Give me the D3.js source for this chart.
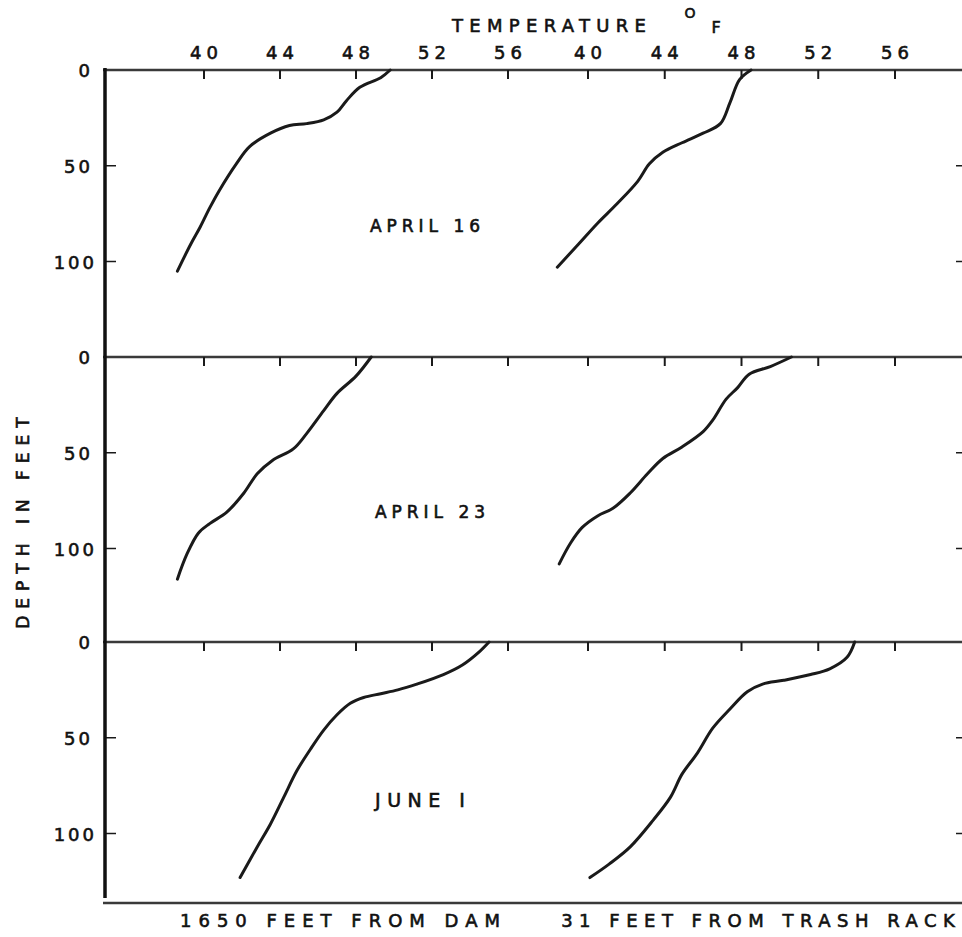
<!DOCTYPE html>
<html>
<head>
<meta charset="utf-8">
<script src="https://cdn.jsdelivr.net/npm/d3@7"></script>
<style>
  html, body { margin: 0; padding: 0; background: #fff; }
  svg { display: block; }
  text { font-family: "DejaVu Sans", sans-serif; fill: #111; stroke: #111; stroke-width: 0.6px; }
</style>
</head>
<body>
<svg id="chart" width="962" height="937"></svg>
<script>
// ---- data (temperature °F vs depth ft) ----
const tempTicks = [40, 44, 48, 52, 56];
const depthTicks = [0, 50, 100];
const panelLabels = ["APRIL 16", "APRIL 23", "JUNE I"];
const stationLabels = ["1650 FEET FROM DAM", "31 FEET FROM TRASH RACK"];

const apr16DamDepth = [0, 4, 9, 16, 22, 26, 28, 29, 33, 40, 49, 63, 72, 82, 91, 105];
const apr16DamTemp  = [49.8, 49.3, 48.2, 47.5, 47.0, 46.3, 45.4, 44.5, 43.5, 42.4, 41.7, 40.8, 40.3, 39.8, 39.3, 38.6];
const apr16RackDepth = [0, 5, 17, 28, 33, 38, 43, 49, 58, 70, 80, 91, 103];
const apr16RackTemp  = [48.5, 47.9, 47.4, 46.9, 46.0, 44.9, 43.9, 43.2, 42.6, 41.5, 40.5, 39.5, 38.4];

const apr23DamDepth = [0, 10, 19, 28, 40, 48, 54, 61, 71, 81, 87, 92, 103, 116];
const apr23DamTemp  = [48.8, 48.0, 47.0, 46.3, 45.4, 44.7, 43.6, 42.8, 42.1, 41.2, 40.3, 39.7, 39.1, 38.6];
const apr23RackDepth = [0, 5, 9, 16, 22, 33, 39, 47, 53, 61, 71, 79, 83, 89, 97, 108];
const apr23RackTemp  = [50.6, 49.5, 48.4, 47.8, 47.2, 46.5, 46.0, 44.9, 43.9, 43.1, 42.2, 41.3, 40.5, 39.7, 39.1, 38.5];

const jun1DamDepth = [0, 5, 12, 17, 22, 25, 27, 29, 32, 38, 46, 56, 67, 81, 95, 107, 123];
const jun1DamTemp  = [55.0, 54.5, 53.6, 52.6, 51.2, 50.2, 49.3, 48.4, 47.7, 47.0, 46.3, 45.6, 44.9, 44.2, 43.5, 42.8, 41.9];
const jun1RackDepth = [0, 8, 14, 17, 20, 22, 26, 35, 45, 58, 69, 81, 93, 107, 116, 123];
const jun1RackTemp  = [53.9, 53.5, 52.6, 51.6, 50.2, 49.1, 48.3, 47.4, 46.5, 45.7, 44.9, 44.3, 43.4, 42.2, 41.1, 40.1];

const panelMaxDepth = [150, 148.5, 135];

// ---- layout ----
const svg = d3.select("#chart");
const axisX = 105, rightX = 962;
const panelTops = [70, 357, 642];
const pxPerFt = 1.915;

const xDam = d3.scaleLinear().domain([40, 56]).range([204, 508]);
const xRack = d3.scaleLinear().domain([40, 56]).range([588, 895]);

const panels = [
  { dam: [apr16DamTemp, apr16DamDepth], rack: [apr16RackTemp, apr16RackDepth] },
  { dam: [apr23DamTemp, apr23DamDepth], rack: [apr23RackTemp, apr23RackDepth] },
  { dam: [jun1DamTemp, jun1DamDepth], rack: [jun1RackTemp, jun1RackDepth] }
];

const ink = "#1a1a1a";

function spacedText(sel, x, y, str, size, ls, anchor) {
  const t = sel.append("text")
    .attr("x", x).attr("y", y)
    .attr("font-size", size)
    .attr("letter-spacing", ls)
    .attr("text-anchor", anchor || "middle")
    .text(str);
  if (!anchor || anchor === "middle") t.attr("dx", ls / 2);
  if (anchor === "end") t.attr("dx", ls);
  return t;
}

panels.forEach((p, i) => {
  const top = panelTops[i];
  const y = d3.scaleLinear().domain([0, panelMaxDepth[i]]).range([top, top + panelMaxDepth[i] * pxPerFt]);
  const g = svg.append("g");

  // top border line of the panel
  g.append("line")
    .attr("x1", axisX - 2).attr("x2", rightX)
    .attr("y1", y(0)).attr("y2", y(0))
    .attr("stroke", "#3a3a3a").attr("stroke-width", 2.6);

  // temperature ticks (pointing down into panel)
  [xDam, xRack].forEach(xs => {
    g.selectAll(null).data(tempTicks).enter().append("line")
      .attr("x1", d => xs(d)).attr("x2", d => xs(d))
      .attr("y1", y(0)).attr("y2", y(0) + 9)
      .attr("stroke", ink).attr("stroke-width", 2);
  });

  // depth ticks on left axis and right edge
  g.selectAll(null).data(depthTicks.filter(d => d > 0)).enter().append("line")
    .attr("x1", axisX).attr("x2", axisX + 11)
    .attr("y1", d => y(d)).attr("y2", d => y(d))
    .attr("stroke", ink).attr("stroke-width", 1.5);
  g.selectAll(null).data(depthTicks.filter(d => d > 0)).enter().append("line")
    .attr("x1", rightX - 6).attr("x2", rightX)
    .attr("y1", d => y(d)).attr("y2", d => y(d))
    .attr("stroke", ink).attr("stroke-width", 1.5);

  // depth labels
  depthTicks.forEach(d => {
    spacedText(g, d === 100 ? 94 : 90, y(d) + 7, String(d), 18, 3, "end");
  });

  // profile curves
  const line = xs => d3.line()
    .x(d => xs(d[0])).y(d => y(d[1]))
    .curve(d3.curveCatmullRom.alpha(0.5));
  [[p.dam, xDam], [p.rack, xRack]].forEach(([arr, xs]) => {
    const pts = arr[0].map((t, k) => [t, arr[1][k]]);
    g.append("path").datum(pts)
      .attr("d", line(xs))
      .attr("fill", "none").attr("stroke", ink)
      .attr("stroke-width", 3).attr("stroke-linejoin", "round").attr("stroke-linecap", "round");
  });

  // date label
  const labelY = [232, 518, 807][i];
  const lsize = i === 2 ? 19 : 17;
  spacedText(g, [425, 430, 420][i], labelY, panelLabels[i], lsize, i === 2 ? 6.5 : 5);
});

// bottom border line
const bottomY = 903;
svg.append("line")
  .attr("x1", axisX - 2).attr("x2", rightX)
  .attr("y1", bottomY).attr("y2", bottomY)
  .attr("stroke", "#3a3a3a").attr("stroke-width", 2.6);

// left vertical axis
svg.append("line")
  .attr("x1", axisX).attr("x2", axisX)
  .attr("y1", 68).attr("y2", 898)
  .attr("stroke", "#111").attr("stroke-width", 3.5);

// temperature tick labels
[xDam, xRack].forEach(xs => {
  tempTicks.forEach(t => spacedText(svg, xs(t), 59, String(t), 18, 5));
});

// axis titles
spacedText(svg, 549, 32, "TEMPERATURE", 18, 6.3);
svg.append("text").attr("x", 690).attr("y", 18).attr("font-size", 14).attr("text-anchor", "middle").text("O");
svg.append("text").attr("x", 716).attr("y", 33).attr("font-size", 16).attr("text-anchor", "middle").text("F");

svg.append("text")
  .attr("transform", "translate(29,523) rotate(-90)")
  .attr("font-size", 17).attr("letter-spacing", 7)
  .attr("text-anchor", "middle").attr("dx", 3.5)
  .text("DEPTH IN FEET");

// station labels
spacedText(svg, 340, 927, stationLabels[0], 18, 7);
spacedText(svg, 758, 927, stationLabels[1], 18, 6.5);
</script>
</body>
</html>
